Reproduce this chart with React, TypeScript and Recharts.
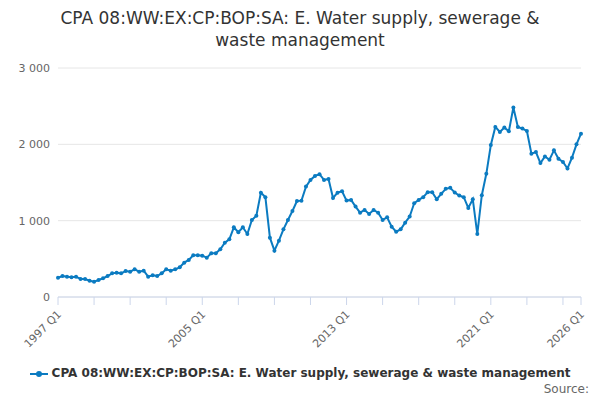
import React from "react";
import { LineChart, Line, XAxis, YAxis, CartesianGrid } from "recharts";

// Quarterly values, 1997 Q1 .. 2026 Q1 (117 quarters)
const values: number[] = [
  253, 275, 266, 258, 266, 236, 236, 214, 201, 223, 245, 275, 310, 319, 310, 341,
  332, 363, 332, 345, 266, 284, 275, 310, 363, 345, 363, 389, 450, 485, 546, 546,
  541, 515, 572, 572, 625, 712, 756, 913, 848, 913, 826, 1009, 1066, 1367, 1306, 777,
  607, 738, 887, 1009, 1127, 1258, 1262, 1446, 1533, 1586, 1608, 1533, 1546, 1297, 1367,
  1386, 1263, 1272, 1184, 1105, 1140, 1088, 1140, 1105, 1009, 1044, 921, 855, 886, 974, 1053,
  1228, 1272, 1307, 1373, 1373, 1281, 1351, 1417, 1430, 1368, 1329, 1307, 1167, 1281, 825, 1333,
  1614, 1991, 2228, 2162, 2219, 2171, 2482, 2228, 2206, 2175, 1877, 1899, 1754, 1842, 1798, 1921,
  1811, 1768, 1684, 1825, 2000, 2140,
];
const startYear = 1997;
const quarterLabel = (i: number) => `${startYear + Math.floor(i / 4)} Q${(i % 4) + 1}`;
const data = values.map((v, i) => ({ i, label: quarterLabel(i), value: v }));

const xTicks = [0, 8, 16, 24, 32, 40, 48, 56, 64, 72, 80, 88, 96, 104, 112, 116];
const xLabelled = [0, 32, 64, 96, 116];
const yTicks = [0, 1000, 2000, 3000];

const title = "CPA 08:WW:EX:CP:BOP:SA: E. Water supply, sewerage & waste management";
const color = "#0b7bc1";
const font = "'DejaVu Sans', sans-serif";

const fmtY = (v: number) => (v >= 1000 ? `${Math.floor(v / 1000)} ${String(v % 1000).padStart(3, "0")}` : `${v}`);

function XTick({ x, y, payload }: any) {
  if (!xLabelled.includes(payload.value)) return null;
  return (
    <text x={x + 4} y={y + 8} transform={`rotate(-45 ${x + 4} ${y + 8})`} textAnchor="end" fontSize={11} fill="#666" fontFamily={font}>
      {quarterLabel(payload.value)}
    </text>
  );
}

export default function App() {
  return (
    <div style={{ position: "absolute", left: 0, top: 0, width: 600, height: 400, background: "#fff", fontFamily: font }}>
      <div style={{ position: "absolute", top: 7, left: 40, width: 520, textAlign: "center", fontSize: 17, lineHeight: "22px", color: "#333" }}>
        {title}
      </div>
      <LineChart width={600} height={400} data={data} margin={{ top: 68, right: 19, bottom: 43, left: 0 }}>
        <CartesianGrid vertical={false} stroke="#e6e6e6" />
        <XAxis
          dataKey="i"
          type="number"
          domain={[0, 116]}
          ticks={xTicks}
          interval={0}
          height={60}
          stroke="#ccd6eb"
          tickSize={8}
          tick={<XTick />}
        />
        <YAxis
          domain={[0, 3000]}
          ticks={yTicks}
          width={58}
          axisLine={false}
          tickLine={false}
          tickFormatter={fmtY}
          tick={{ fontSize: 11, fill: "#666", fontFamily: font }}
        />
        <Line
          dataKey="value"
          stroke={color}
          strokeWidth={2}
          dot={{ r: 2, fill: color, stroke: color, strokeWidth: 0 }}
          isAnimationActive={false}
        />
      </LineChart>
      <div style={{ position: "absolute", top: 366, left: 0, width: 600, textAlign: "center", fontSize: 12, fontWeight: "bold", color: "#333", whiteSpace: "nowrap" }}>
        <svg width={18} height={10} style={{ verticalAlign: "middle", marginRight: 4 }}>
          <line x1={0} y1={5} x2={18} y2={5} stroke={color} strokeWidth={2} />
          <circle cx={9} cy={5} r={3} fill={color} />
        </svg>
        {title}
      </div>
      <div style={{ position: "absolute", top: 382, right: 11, fontSize: 12, color: "#666" }}>Source:</div>
    </div>
  );
}
